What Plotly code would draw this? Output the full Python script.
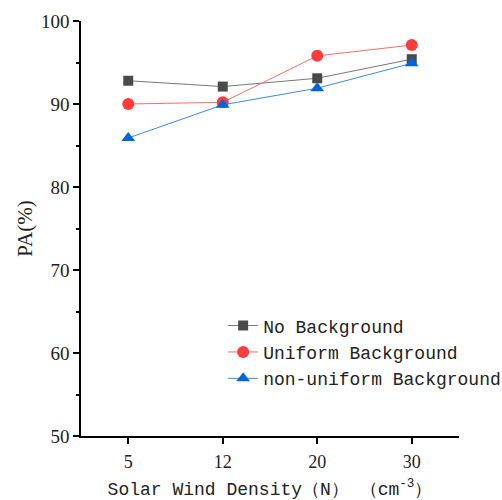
import plotly.graph_objects as go

categories = ["5", "12", "20", "30"]
no_bg = [92.8, 92.1, 93.1, 95.4]
uniform_bg = [90.0, 90.2, 95.8, 97.1]
nonuniform_bg = [85.9, 89.9, 91.9, 94.9]
series_names = ["No Background", "Uniform Background", "non-uniform Background"]
y_ticks = [50, 60, 70, 80, 90, 100]

MONO = "Liberation Mono"
SERIF = "Liberation Serif"

fig = go.Figure()
fig.add_trace(go.Scatter(
    x=categories, y=no_bg, name=series_names[0], mode="lines+markers",
    line=dict(color="#777777", width=1),
    marker=dict(symbol="square", size=10, color="#4a4a4a"),
))
fig.add_trace(go.Scatter(
    x=categories, y=uniform_bg, name=series_names[1], mode="lines+markers",
    line=dict(color="#ff6b6b", width=1),
    marker=dict(symbol="circle", size=12, color="#ff3b3b"),
))
fig.add_trace(go.Scatter(
    x=categories, y=nonuniform_bg, name=series_names[2], mode="lines+markers",
    line=dict(color="#3a8ae8", width=1),
    marker=dict(symbol="triangle-up", size=12, color="#0066dd"),
))

fig.update_layout(
    width=502, height=500,
    margin=dict(l=81, r=43, t=21, b=64, autoexpand=False),
    paper_bgcolor="white", plot_bgcolor="white",
    font=dict(family=MONO, size=16, color="#222222"),
    showlegend=True,
    legend=dict(
        x=0.376, y=0.31, xanchor="left", yanchor="top",
        bgcolor="rgba(0,0,0,0)", borderwidth=0,
        font=dict(family=MONO, size=18, color="#222222"),
        tracegroupgap=0, itemwidth=30,
    ),
)
fig.update_xaxes(
    type="category", range=[-0.5, 3.5],
    showline=True, linecolor="black", linewidth=1.5, mirror=False,
    ticks="outside", ticklen=6, tickwidth=1.5, tickcolor="black",
    showgrid=False, zeroline=False,
    tickfont=dict(family=SERIF, size=18, color="#222222"),
    ticklabelstandoff=3,
    title=dict(text="Solar Wind Density（N） （cm<sup>-3</sup>）",
               font=dict(family=MONO, size=18, color="#222222"), standoff=14),
    automargin=False,
)
fig.update_yaxes(
    range=[50, 100], tickvals=y_ticks,
    showline=True, linecolor="black", linewidth=1.5, mirror=False,
    ticks="outside", ticklen=6, tickwidth=1.5, tickcolor="black",
    minor=dict(dtick=5, ticks="outside", ticklen=3, tickwidth=1.5, tickcolor="black", showgrid=False),
    showgrid=False, zeroline=False,
    tickfont=dict(family=SERIF, size=19, color="#222222"),
    title=dict(text="PA(%)", font=dict(family=SERIF, size=21, color="#222222"), standoff=3),
    automargin=False,
)

fig.write_html("out.html")
